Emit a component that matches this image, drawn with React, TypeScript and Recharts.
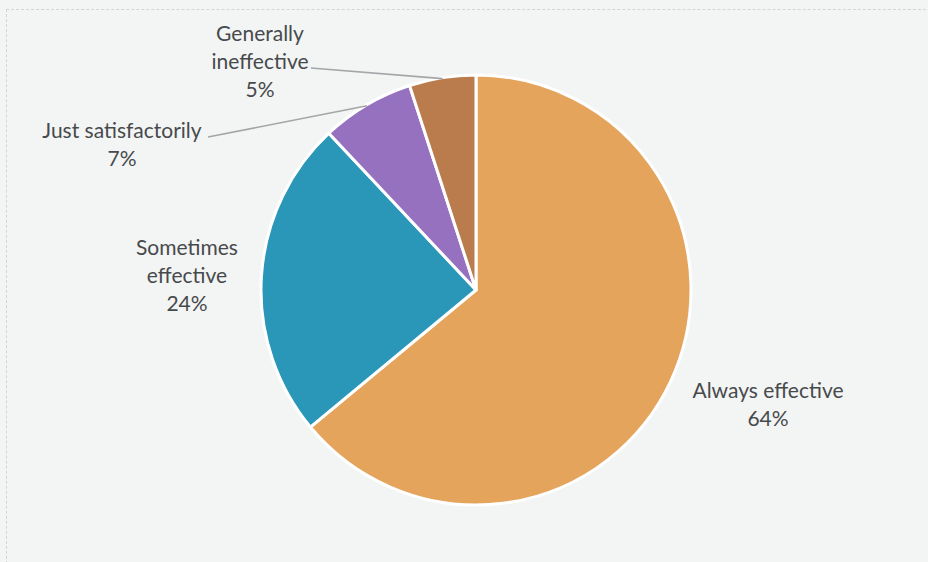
import React from 'react';
import { PieChart, Pie, Cell } from 'recharts';

const CATEGORIES = ['Always effective', 'Sometimes effective', 'Just satisfactorily', 'Generally ineffective'];
const SHARES = [64, 24, 7, 5];
const LABEL_LINES = [['Always effective'], ['Sometimes', 'effective'], ['Just satisfactorily'], ['Generally', 'ineffective']];
const COLORS = ['#E5A45C', '#2A97B8', '#9571BF', '#BA7C4C'];

// label placement relative to pie centre (text centre of first line, and leader start)
const LABEL_OFFSETS = [
  { dx: 292, dy: 99, line: null },
  { dx: -289, dy: -44, line: null },
  { dx: -354, dy: -161, line: { dx: -268, dy: -153 } },
  { dx: -216, dy: -258, line: { dx: -165, dy: -222 } },
];

const data = CATEGORIES.map((name, i) => ({ name, value: SHARES[i] }));

const RAD = Math.PI / 180;

function renderLabel(props: any) {
  const { cx, cy, midAngle, outerRadius, index, value } = props;
  const pos = LABEL_OFFSETS[index];
  const lines = [...LABEL_LINES[index], `${value}%`];
  const x = cx + pos.dx;
  const y = cy + pos.dy;
  let leader = null;
  if (pos.line) {
    const ex = cx + (outerRadius - 1) * Math.cos(-midAngle * RAD);
    const ey = cy + (outerRadius - 1) * Math.sin(-midAngle * RAD);
    leader = (
      <line x1={cx + pos.line.dx} y1={cy + pos.line.dy} x2={ex} y2={ey} stroke="#A3A6A8" strokeWidth={1.6} />
    );
  }
  return (
    <g key={`label-${index}`}>
      {leader}
      {lines.map((t, i) => (
        <text
          key={i}
          x={x}
          y={y + i * 28}
          textAnchor="middle"
          dominantBaseline="central"
          fill="#474A4C"
          fontSize={21}
          fontFamily="Lato, 'Open Sans', sans-serif"
        >
          {t}
        </text>
      ))}
    </g>
  );
}

export default function App() {
  return (
    <div style={{ position: 'relative', width: 928, height: 562, background: '#F3F4F4', overflow: 'hidden' }}>
      <style>{`body{margin:0}`}</style>
      <div
        style={{
          position: 'absolute',
          left: 6,
          top: 9,
          width: 940,
          height: 560,
          border: '1px dashed #D2D4D5',
          boxSizing: 'border-box',
        }}
      />
      <div style={{ position: 'absolute', left: 0, top: 0 }}>
        <PieChart width={928} height={562} margin={{ top: 0, right: 0, bottom: 0, left: 0 }}>
          <Pie
            data={data}
            dataKey="value"
            nameKey="name"
            cx={476}
            cy={290}
            outerRadius={215}
            startAngle={90}
            endAngle={-270}
            stroke="#FFFFFF"
            strokeWidth={3}
            labelLine={false}
            label={renderLabel}
            isAnimationActive={false}
          >
            {data.map((entry, index) => (
              <Cell key={`cell-${index}`} fill={COLORS[index % COLORS.length]} />
            ))}
          </Pie>
        </PieChart>
      </div>
    </div>
  );
}
